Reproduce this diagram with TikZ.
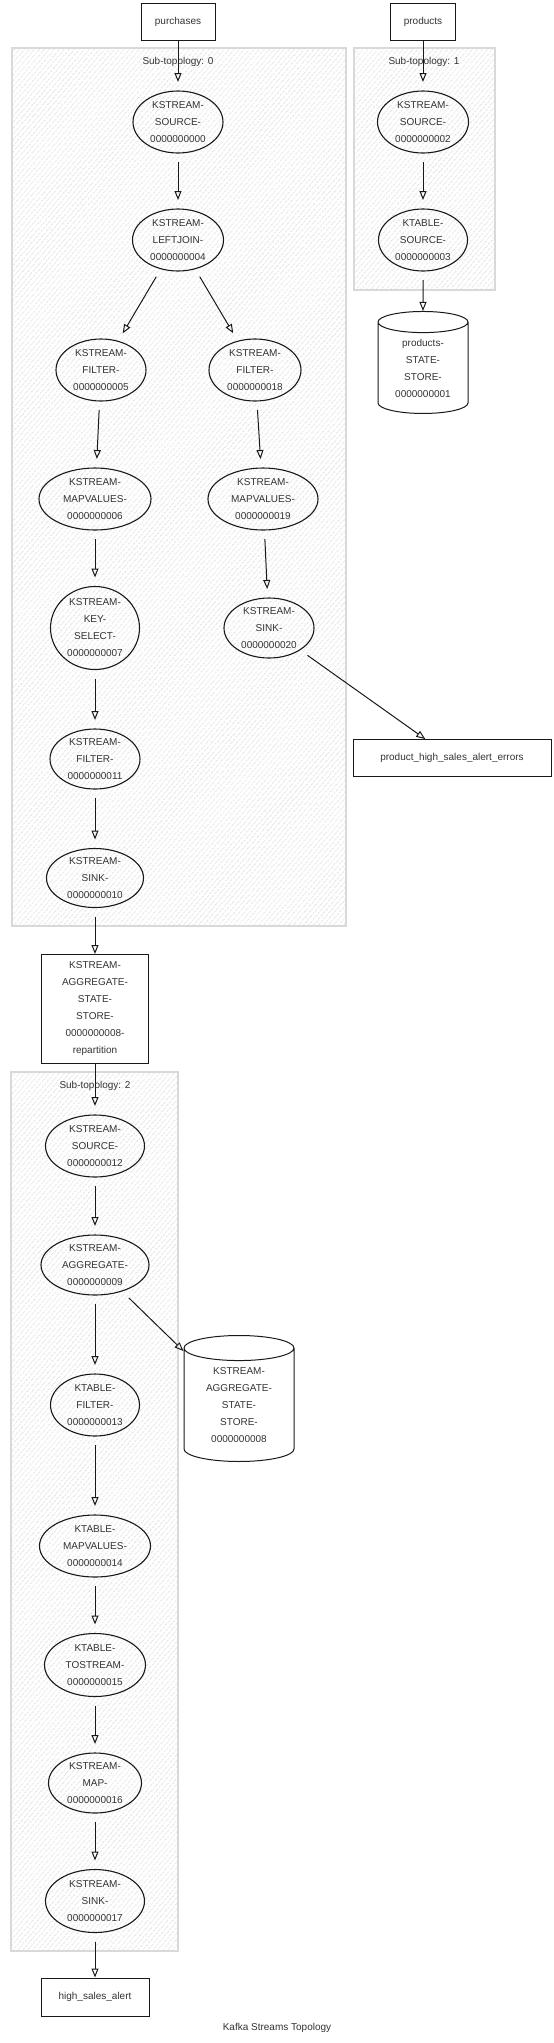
\documentclass[tikz,border=0pt]{standalone}
\usepackage{fontspec}
\setmainfont{Liberation Sans}
\usetikzlibrary{positioning,shapes.geometric,arrows.meta,patterns.meta}

\begin{document}
\begin{tikzpicture}[>={Triangle[open,length=9pt,width=7pt]},node distance=118pt,on grid,
  every node/.style={font=\fontsize{10}{17}\selectfont,text=black!80},
  proc/.style={ellipse,draw=black!90,line width=1.1pt,align=center,inner sep=0pt,outer sep=9pt,minimum width=#1,minimum height=62pt},
  proc/.default=90pt,
  topic/.style={rectangle,draw=black!90,line width=1pt,align=center,inner sep=0pt,minimum width=#1,minimum height=37pt},
  topic/.default=74pt,
  store/.style={cylinder,shape border rotate=90,aspect=0.38,draw=black!90,line width=1pt,align=center,inner sep=0pt,minimum width=90pt,minimum height=102pt},
  flow/.style={->,line width=1pt,draw=black!90},
  cluster/.style={draw=black!15,line width=1.2pt,pattern={Lines[angle=50,distance=4pt,line width=1pt]},pattern color=black!14}]
  \useasboundingbox (0,0) rectangle (554pt,-2043pt);

  % Sub-topologies
  \draw[cluster] (12pt,-48pt) rectangle (346pt,-926pt);
  \draw[cluster] (354pt,-48pt) rectangle (495pt,-290pt);
  \draw[cluster] (11pt,-1072pt) rectangle (178pt,-1951pt);
  \node (sub0) at (178pt,-62pt) {Sub-topology: 0};
  \node (sub1) at (424pt,-62pt) {Sub-topology: 1};
  \node (sub2) at (95pt,-1086pt) {Sub-topology: 2};

  % Topics
  \node[topic] (purchases) at (178pt,-22pt) {purchases};
  \node[topic=65pt,right=245pt of purchases] (products) {products};

  % Sub-topology 0
  \node[proc,below=100pt of purchases] (src0) {KSTREAM-\\SOURCE-\\0000000000};
  \node[proc=91pt,below=of src0] (join4) {KSTREAM-\\LEFTJOIN-\\0000000004};
  \node[proc,below left=130pt and 77pt of join4] (filter5) {KSTREAM-\\FILTER-\\0000000005};
  \node[proc=92pt,below right=130pt and 77pt of join4] (filter18) {KSTREAM-\\FILTER-\\0000000018};
  \node[proc=112pt,below left=129pt and 6pt of filter5] (mv6) {KSTREAM-\\MAPVALUES-\\0000000006};
  \node[proc=110pt,below right=129pt and 8pt of filter18] (mv19) {KSTREAM-\\MAPVALUES-\\0000000019};
  \node[proc=89pt,minimum height=83pt,below=129pt of mv6] (key7) {KSTREAM-\\KEY-\\SELECT-\\0000000007};
  \node[proc,minimum height=60pt,below right=129pt and 6pt of mv19] (sink20) {KSTREAM-\\SINK-\\0000000020};
  \node[topic=198pt,below right=130pt and 183pt of sink20] (errors) {product\_high\_sales\_alert\_errors};
  \node[proc,minimum height=60pt,below=131pt of key7] (filter11) {KSTREAM-\\FILTER-\\0000000011};
  \node[proc=97pt,minimum height=59pt,below=119pt of filter11] (sink10) {KSTREAM-\\SINK-\\0000000010};
  \node[topic=107pt,minimum height=109pt,below=131pt of sink10] (repart) {KSTREAM-\\AGGREGATE-\\STATE-\\STORE-\\0000000008-\\repartition};

  % Sub-topology 1
  \node[proc=91pt,below=100pt of products] (src2) {KSTREAM-\\SOURCE-\\0000000002};
  \node[proc=89pt,below=of src2] (tsrc3) {KTABLE-\\SOURCE-\\0000000003};
  \node[store,below=128pt of tsrc3] (store1) {products-\\STATE-\\STORE-\\0000000001};

  % Sub-topology 2
  \node[proc=99pt,below=137pt of repart] (src12) {KSTREAM-\\SOURCE-\\0000000012};
  \node[proc=108pt,minimum height=60pt,below=119pt of src12] (agg9) {KSTREAM-\\AGGREGATE-\\0000000009};
  \node[proc=89pt,below=140pt of agg9] (filter13) {KTABLE-\\FILTER-\\0000000013};
  \node[store,minimum width=110pt,minimum height=126pt,right=144pt of filter13] (store8) {KSTREAM-\\AGGREGATE-\\STATE-\\STORE-\\0000000008};
  \node[proc=111pt,below=141pt of filter13] (mv14) {KTABLE-\\MAPVALUES-\\0000000014};
  \node[proc=101pt,minimum height=63pt,below=119pt of mv14] (ts15) {KTABLE-\\TOSTREAM-\\0000000015};
  \node[proc=93pt,minimum height=60pt,below=of ts15] (map16) {KSTREAM-\\MAP-\\0000000016};
  \node[proc=99pt,minimum height=63pt,below=of map16] (sink17) {KSTREAM-\\SINK-\\0000000017};
  \node[topic=108pt,minimum height=38pt,below=96pt of sink17] (alert) {high\_sales\_alert};

  \node (title) at (277pt,-2028pt) {Kafka Streams Topology};

  % Flows
  \path[flow]
    (purchases) edge (src0)
    (src0) edge (join4)
    (join4) edge (filter5)
    (join4) edge (filter18)
    (filter5) edge (mv6)
    (mv6) edge (key7)
    (key7) edge (filter11)
    (filter11) edge (sink10)
    (sink10) edge (repart)
    (filter18) edge (mv19)
    (mv19) edge (sink20)
    (sink20) edge (errors)
    (products) edge (src2)
    (src2) edge (tsrc3)
    (tsrc3) edge (store1)
    (repart) edge (src12)
    (src12) edge (agg9)
    (agg9) edge (filter13)
    (agg9) edge (store8)
    (filter13) edge (mv14)
    (mv14) edge (ts15)
    (ts15) edge (map16)
    (map16) edge (sink17)
    (sink17) edge (alert);
\end{tikzpicture}
\end{document}
